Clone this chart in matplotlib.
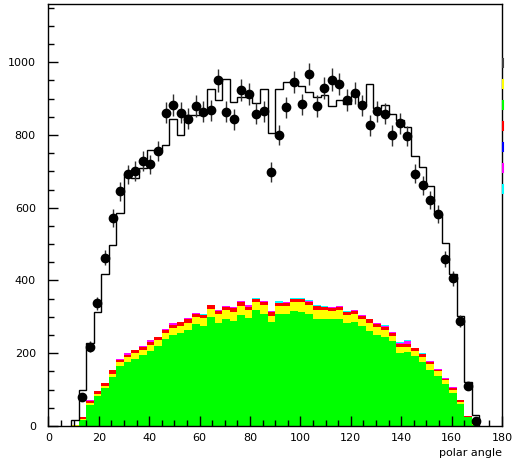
import numpy as np
import matplotlib as mpl
mpl.use('Agg')
import matplotlib.pyplot as plt
from matplotlib.lines import Line2D
from matplotlib.ticker import MultipleLocator

# bin edges (3 degree bins from 9 to 171)
edges = np.arange(9, 172, 3)
centers = edges[:-1] + 1.5

# MC expectation (black histogram)
mc = [16, 99, 227, 314, 419, 498, 585, 692, 683, 710, 758, 760, 772, 843,
      800, 855, 855, 857, 925, 896, 953, 891, 903, 905, 889, 925, 805, 925,
      946, 948, 934, 918, 905, 909, 879, 897, 886, 911, 885, 939, 873, 881,
      857, 841, 821, 742, 712, 660, 582, 503, 419, 302, 120, 30]

# measured data points (0 = no point)
data = [0, 81, 218, 337, 463, 572, 645, 692, 701, 728, 719, 755, 861, 882,
        861, 845, 879, 864, 868, 950, 864, 843, 923, 912, 859, 865, 698, 800,
        876, 946, 884, 968, 879, 928, 952, 941, 896, 914, 881, 827, 865, 859,
        799, 832, 797, 694, 662, 621, 582, 459, 406, 288, 110, 14]

# stacked background components, cumulative tops
green_top = [1, 17, 58, 82, 105, 135, 165, 177, 184, 195, 206, 220, 239, 250,
             256, 264, 280, 276, 300, 283, 294, 288, 305, 298, 319, 308, 286, 308,
             308, 316, 314, 309, 294, 294, 294, 294, 284, 286, 276, 262, 251, 245,
             234, 201, 204, 193, 177, 154, 137, 115, 92, 60, 24, 3]
yellow_top = [2, 19, 62, 88, 110, 142, 176, 190, 200, 210, 224, 236, 255, 270,
              276, 284, 300, 297, 322, 307, 318, 314, 330, 318, 340, 332, 303, 330,
              330, 340, 340, 333, 320, 318, 316, 318, 305, 308, 294, 283, 272, 264,
              248, 218, 217, 206, 191, 170, 150, 126, 100, 66, 25, 5]
red_top = [4, 24, 68, 95, 117, 154, 182, 196, 209, 218, 232, 244, 264, 279,
           285, 293, 309, 305, 332, 317, 327, 324, 340, 328, 349, 342, 312, 339,
           339, 349, 349, 342, 329, 326, 323, 326, 312, 316, 302, 293, 280, 272,
           256, 226, 225, 215, 198, 176, 155, 130, 105, 71, 28, 7]
magenta_top = [4, 25, 71, 96, 118, 155, 184, 200, 210, 221, 236, 245, 266, 282,
               287, 296, 311, 305, 333, 320, 330, 326, 343, 332, 349, 343, 315, 339,
               340, 350, 350, 343, 330, 328, 327, 330, 314, 319, 305, 293, 284, 274,
               259, 227, 233, 215, 199, 179, 158, 133, 108, 71, 28, 7]
cyan_top = [4, 25, 71, 96, 118, 155, 184, 200, 210, 221, 236, 245, 266, 282,
            287, 296, 311, 308, 333, 320, 330, 326, 343, 332, 353, 343, 315, 343,
            342, 352, 352, 346, 332, 330, 327, 330, 316, 319, 305, 293, 284, 277,
            259, 230, 236, 215, 201, 179, 158, 133, 108, 71, 28, 7]

layers = [(cyan_top, '#00ffff'), (magenta_top, '#ff00ff'), (red_top, '#ff0000'),
          (yellow_top, '#ffff00'), (green_top, '#00ff00')]
legend_colors = ['#404040', '#ffff00', '#00ff00', '#ff0000', '#0000ff', '#ff00ff', '#00ffff']

plt.rcParams['font.family'] = 'DejaVu Sans'
plt.rcParams['font.size'] = 8

fig = plt.figure(figsize=(5.12, 4.62), dpi=100)
ax = fig.add_axes([48.3 / 512, 36 / 462, (502 - 48.3) / 512, 422 / 462])

# stacked components, tallest drawn first
for tops, col in layers:
    ax.stairs(tops, edges, fill=True, color=col, lw=0)

ax.stairs(mc, edges, color='black', lw=1.0)

d = np.array(data, dtype=float)
m = d > 0
ax.errorbar(centers[m], d[m], yerr=np.sqrt(d[m]), fmt='o', color='black',
            ecolor='#303030', ms=6, elinewidth=1.0, capsize=0)

ax.set_xlim(0, 180)
ax.set_ylim(0, 1160)
ax.xaxis.set_major_locator(MultipleLocator(20))
ax.xaxis.set_minor_locator(MultipleLocator(5))
ax.yaxis.set_major_locator(MultipleLocator(200))
ax.yaxis.set_minor_locator(MultipleLocator(50))
ax.tick_params(which='both', direction='in', top=False, right=False)
ax.tick_params(which='major', length=7, width=1)
ax.tick_params(which='minor', length=4, width=1)
ax.tick_params(axis='y', pad=9)
ax.tick_params(axis='x', pad=5)
for s in ax.spines.values():
    s.set_linewidth(1.0)
ax.set_xlabel('polar angle', loc='right', labelpad=4)

# cut-off legend swatches on the right border
for i, col in enumerate(legend_colors):
    y0 = 1 - (59 + 21 * i) / 462
    fig.add_artist(Line2D([502.5 / 512, 502.5 / 512], [y0, y0 - 8 / 462],
                          color=col, lw=1.5, transform=fig.transFigure))

fig.savefig('out.png', dpi=100)
